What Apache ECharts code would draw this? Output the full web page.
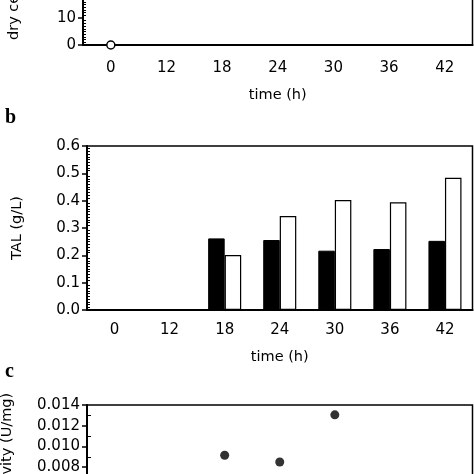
<!DOCTYPE html>
<html>
<head>
<meta charset="utf-8">
<script src="https://cdn.jsdelivr.net/npm/echarts@6/dist/echarts.min.js"></script>
<style>
  html, body { margin: 0; padding: 0; background: #fff; }
  #chart { width: 474px; height: 474px; }
</style>
</head>
<body>
<div id="chart"></div>
<script>
// time points shared by all three panels
var times = ['0', '12', '18', '24', '30', '36', '42'];

// panel a: dry cell weight (only the bottom of the panel is in view)
var dryCell = [0, '-', '-', '-', '-', '-', '-'];

// panel b: TAL (g/L), black vs white bars
var talBlack = [0, 0, 0.262, 0.256, 0.217, 0.223, 0.253];
var talWhite = [0.001, 0.003, 0.201, 0.344, 0.402, 0.394, 0.484];

// panel c: activity (U/mg), top part only
var activity = ['-', '-', 0.00915, 0.0085, 0.01305, '-', '-'];

var font = 'DejaVu Sans';
var txt = { color: '#000', fontFamily: font, fontSize: 15 };
var nameTxt = { color: '#000', fontFamily: font, fontSize: 14.5 };

function xAx(idx, opts) {
  return Object.assign({
    type: 'category',
    gridIndex: idx,
    data: times,
    boundaryGap: true,
    axisLine: { lineStyle: { color: '#000', width: 2 } },
    axisTick: { length: 5, lineStyle: { color: '#000', width: 1.5 } },
    axisLabel: Object.assign({ margin: 13 }, txt),
    splitLine: { show: false },
    nameLocation: 'middle',
    nameTextStyle: nameTxt
  }, opts);
}

function yAx(idx, opts) {
  return Object.assign({
    type: 'value',
    gridIndex: idx,
    axisLine: { show: true, lineStyle: { color: '#000', width: 2 } },
    axisTick: { show: true, length: 5, lineStyle: { color: '#000', width: 1.5 } },
    minorTick: { show: true, length: -3, lineStyle: { color: '#000', width: 1 } },
    axisLabel: Object.assign({ margin: 7 }, txt),
    splitLine: { show: false },
    nameLocation: 'middle',
    nameTextStyle: nameTxt
  }, opts);
}

// outerBoundsMode none: the panels are meant to run past the page edges
var gridBase = { show: true, borderColor: '#000', borderWidth: 1.5, containLabel: false, outerBoundsMode: 'none' };

var chart = echarts.init(document.getElementById('chart'), null, { renderer: 'canvas' });

chart.setOption({
  animation: false,
  backgroundColor: '#fff',
  grid: [
    Object.assign({ left: 83, right: 1.5, top: -90, bottom: 429 }, gridBase),
    Object.assign({ left: 87, right: 1.5, top: 146, bottom: 164 }, gridBase),
    Object.assign({ left: 87, right: 1.5, top: 405, bottom: -76 }, gridBase)
  ],
  xAxis: [
    xAx(0, {
      name: 'time (h)', nameGap: 43,
      axisTick: { inside: true, length: 4, lineStyle: { color: '#000', width: 1.5 } },
      axisLabel: Object.assign({ margin: 16 }, txt)
    }),
    xAx(1, { name: 'time (h)', nameGap: 40 }),
    xAx(2, { axisLabel: { show: false }, axisTick: { show: false } })
  ],
  yAxis: [
    yAx(0, { min: 0, max: 50, interval: 10,
      minorTick: { show: true, splitNumber: 10, length: -3, lineStyle: { color: '#000', width: 1 } } }),
    yAx(1, { min: 0, max: 0.6, interval: 0.1, name: 'TAL (g/L)', nameGap: 62,
      minorTick: { show: true, splitNumber: 10, length: -3, lineStyle: { color: '#000', width: 1 } },
      axisLabel: Object.assign({ margin: 7, formatter: function (v) { return v.toFixed(1); } }, txt) }),
    yAx(2, { min: 0, max: 0.014, interval: 0.002, name: 'Specific activity (U/mg)', nameGap: 72,
      minorTick: { show: true, splitNumber: 2, length: -4, lineStyle: { color: '#000', width: 1 } },
      axisLabel: Object.assign({ margin: 7, formatter: function (v) { return v.toFixed(3); } }, txt) })
  ],
  series: [
    {
      type: 'line', xAxisIndex: 0, yAxisIndex: 0, data: dryCell,
      symbol: 'circle', symbolSize: 8, z: 5,
      lineStyle: { color: '#000', width: 1.5 },
      itemStyle: { color: '#fff', borderColor: '#000', borderWidth: 1.5 }
    },
    {
      type: 'bar', xAxisIndex: 1, yAxisIndex: 1, data: talBlack,
      barGap: '0%', barCategoryGap: '40%',
      itemStyle: { color: '#000', borderColor: '#000', borderWidth: 1 }
    },
    {
      type: 'bar', xAxisIndex: 1, yAxisIndex: 1, data: talWhite,
      barGap: '0%', barCategoryGap: '40%',
      itemStyle: { color: '#fff', borderColor: '#000', borderWidth: 1.2 }
    },
    {
      type: 'scatter', xAxisIndex: 2, yAxisIndex: 2, data: activity,
      symbol: 'circle', symbolSize: 9,
      itemStyle: { color: '#000' }
    }
  ],
  graphic: [
    {
      type: 'text', x: 22, y: 40, rotation: Math.PI / 2,
      style: { text: 'dry cell weight (g/L)', fill: '#000', font: '14.5px "DejaVu Sans"',
        align: 'left', verticalAlign: 'bottom' }
    },
    {
      type: 'text', left: 5, top: 108,
      style: { text: 'b', fill: '#000', font: 'bold 20px "Liberation Serif"' }
    },
    {
      type: 'text', left: 5, top: 362,
      style: { text: 'c', fill: '#000', font: 'bold 20px "Liberation Serif"' }
    }
  ]
});
</script>
</body>
</html>
